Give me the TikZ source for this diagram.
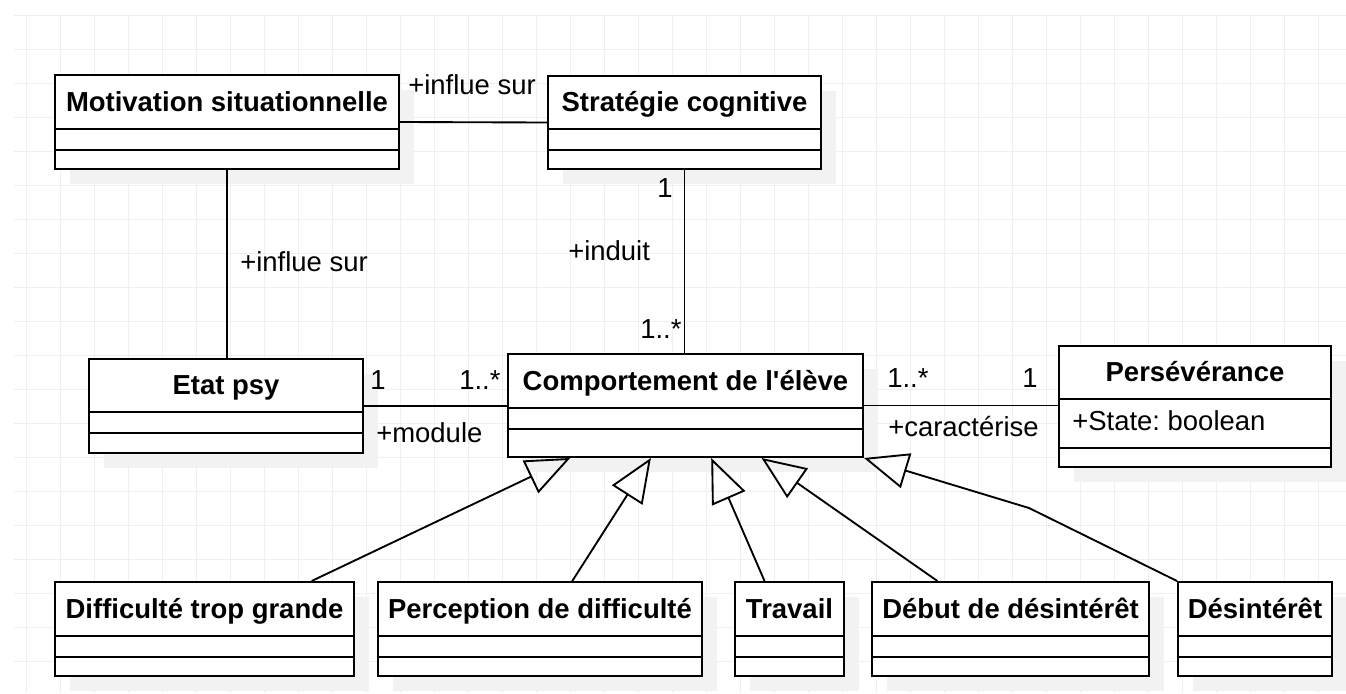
\documentclass[tikz,border=0pt]{standalone}
\usepackage{fontspec}
\setmainfont{Liberation Sans}
\usepackage{tikz}
\usetikzlibrary{fit}
\usetikzlibrary{calc}
\usetikzlibrary{positioning}
\usetikzlibrary {arrows.meta}
\definecolor{gridgray}{HTML}{EFEFEF}
\definecolor{shadowgray}{HTML}{F2F2F2}
\frenchspacing
\tikzset{
  classbox/.style= {
    draw,
    fill = white,
    line width = 1.5pt,
    inner sep = 0pt
  },
  classtitle/.style= {
    anchor = base,
    inner sep = 0pt,
    font = \bfseries\fontsize{20.6pt}{24pt}\selectfont
  },
  classshadow/.style= {
    fill = shadowgray
  },
  gridline/.style= {
    draw = gridgray,
    line width = 0.75pt
  },
  assoc/.style= {
    draw,
    line width = 1.4pt
  },
  assoclabel/.style= {
    anchor = base west,
    inner sep = 0pt,
    font = \fontsize{20.6pt}{24pt}\selectfont
  },
  generalization/.style= {
    draw,
    line width = 1.4pt,
    -{Triangle[open,length=33pt,width=27pt]}
  }
}
\newcommand{\umlclass}[8]{%
  \fill[classshadow] (#2+15,#3+15) rectangle (#4+15,#5+15);
  \coordinate (#1-nw) at (#2,#3);
  \coordinate (#1-se) at (#4,#5);
  \node[classbox,fit=(#1-nw) (#1-se)] (#1) {};
  \draw[line width=1.5pt] (#2,#6) -- (#4,#6);
  \draw[line width=1.5pt] (#2,#7) -- (#4,#7);
  \node[classtitle] (#1-title) at ({(#2+#4)/2},{(#3+#6)/2+9}) {#8};
}
\begin{document}
\begin{tikzpicture}[x=0.75pt,y=-0.75pt]
  \useasboundingbox[fill=white] (0,0) rectangle (1346,693);
  \foreach \gx in {26.7,60.7,...,1346} {
    \draw[gridline] (\gx,14) -- (\gx,693);
  }
  \foreach \gy in {15,49,...,693} {
    \draw[gridline] (14,\gy) -- (1346,\gy);
  }

  \umlclass{mot}{55}{75}{399}{169}{129}{150}{Motivation situationnelle}
  \umlclass{strat}{548}{76}{821}{169}{129}{150}{Stratégie cognitive}
  \umlclass{etat}{89}{359}{363}{453}{412}{433}{Etat psy}
  \umlclass{comp}{508}{354}{863}{457}{408}{429}{Comportement de l\textquotesingle élève}
  \umlclass{pers}{1059}{346}{1331}{467}{399}{448}{Persévérance}
  \node[assoclabel] (pers-attr) at (1072,430) {+State: boolean};

  \umlclass{diff}{55}{582}{354}{676}{636}{657}{Difficulté trop grande}
  \umlclass{perc}{378}{582}{702}{676}{636}{657}{Perception de difficulté}
  \umlclass{trav}{735}{582}{844}{676}{636}{657}{Travail}
  \umlclass{debut}{872}{582}{1149}{676}{636}{657}{Début de désintérêt}
  \umlclass{desint}{1178}{582}{1332}{676}{636}{657}{Désintérêt}

  \draw[assoc] (mot.east) -- (strat.west);
  \node[assoclabel] (influe1) at (408,94) {+influe sur};

  \draw[assoc] (mot.south) -- (mot.south |- etat.north);
  \node[assoclabel] (influe2) at (240,271) {+influe sur};

  \draw[assoc] (strat.south) -- (strat.south |- comp.north);
  \node[assoclabel] (induit-a) at (657,197) {1};
  \node[assoclabel] (induit) at (568,260) {+induit};
  \node[assoclabel] (induit-b) at (640,338) {1..*};

  \draw[assoc] (etat.east) -- (etat.east -| comp.west);
  \node[assoclabel] (module-a) at (370,389) {1};
  \node[assoclabel] (module-b) at (459,389) {1..*};
  \node[assoclabel] (module) at (376,442) {+module};

  \draw[assoc] (comp.east) -- (comp.east -| pers.west);
  \node[assoclabel] (carac-a) at (887,387) {1..*};
  \node[assoclabel] (carac-b) at (1022,387) {1};
  \node[assoclabel] (carac) at (888,436) {+caractérise};

  \coordinate (bend) at (1029,508);
  \draw[generalization] ($(diff.north west)!0.856!(diff.north east)$) -- ($(comp.south west)!0.177!(comp.south east)$);
  \draw[generalization] ($(perc.north west)!0.599!(perc.north east)$) -- ($(comp.south west)!0.403!(comp.south east)$);
  \draw[generalization] ($(trav.north west)!0.275!(trav.north east)$) -- ($(comp.south west)!0.572!(comp.south east)$);
  \draw[generalization] ($(debut.north west)!0.238!(debut.north east)$) -- ($(comp.south west)!0.713!(comp.south east)$);
  \draw[generalization] (desint.north west) -- (bend) -- (comp.south east);

\end{tikzpicture}
\end{document}
